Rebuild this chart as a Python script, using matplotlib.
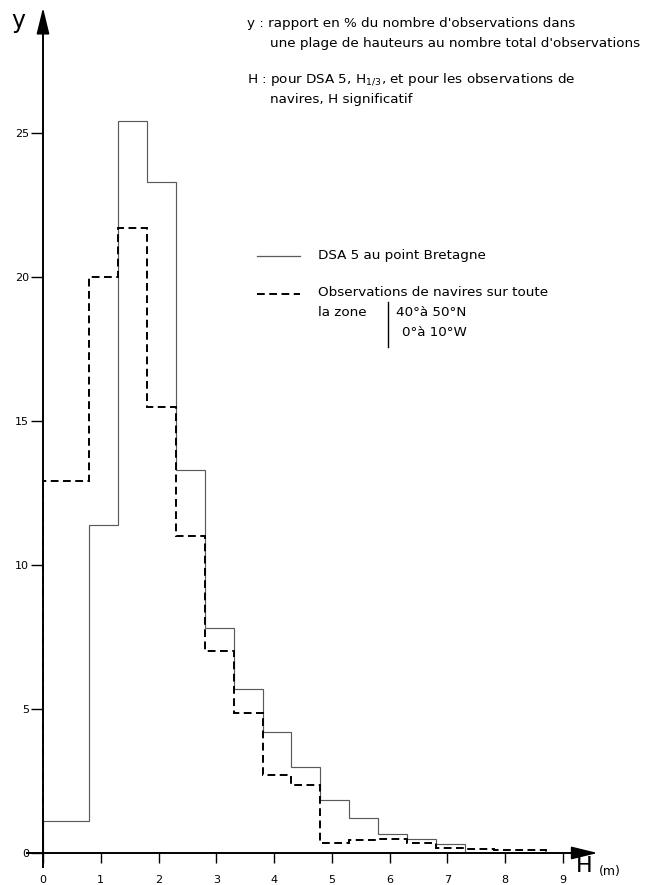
import matplotlib
matplotlib.use("Agg")
import matplotlib.pyplot as plt
from matplotlib.lines import Line2D
import numpy as np

plt.rcParams['font.family'] = ['DejaVu Sans']

# bin edges (m) and percentages
edges_dsa5 = [0, 0.8, 1.3, 1.8, 2.3, 2.8, 3.3, 3.8, 4.3, 4.8, 5.3, 5.8, 6.3, 6.8, 7.3]
dsa5 = [1.1, 11.4, 25.4, 23.3, 13.3, 7.8, 5.7, 4.2, 3.0, 1.85, 1.2, 0.65, 0.5, 0.3]

edges_ships = [0, 0.8, 1.3, 1.8, 2.3, 2.8, 3.3, 3.8, 4.3, 4.8, 5.3, 5.8, 6.3, 6.8, 7.3, 7.8, 8.3, 8.7]
ships = [12.9, 20.0, 21.7, 15.5, 11.0, 7.0, 4.85, 2.7, 2.35, 0.35, 0.45, 0.5, 0.35, 0.18, 0.15, 0.12, 0.1]

xticks = [0, 1, 2, 3, 4, 5, 6, 7, 8, 9]
yticks = [0, 5, 10, 15, 20, 25]

W, H = 649, 885
fig = plt.figure(figsize=(W / 100, H / 100), dpi=100)
ax = fig.add_axes([0, 0, 1, 1])
ax.patch.set_alpha(0)

# pixel mapping of the original plate
x0px, x9px = 43, 563
y0px, y25px = 853, 133
sx = (x9px - x0px) / 9.0
sy = (y0px - y25px) / 25.0
ax.set_xlim(-x0px / sx, (W - x0px) / sx)
ax.set_ylim(-(H - y0px) / sy, y0px / sy)

def fx(px):
    return px / W

def fy(py):
    return 1 - py / H

solid_col = '#5a5a5a'
dash_style = (0, (4, 2.3))

# histograms
ax.stairs(dsa5, edges_dsa5, baseline=0, color=solid_col, lw=0.85)
ax.stairs(ships, edges_ships, baseline=0, color='black', lw=1.4,
          linestyle=dash_style)

# axes as arrows
for s in ['top', 'right']:
    ax.spines[s].set_visible(False)
ax.spines['left'].set_position(('data', 0))
ax.spines['bottom'].set_position(('data', 0))
ax.spines['left'].set_bounds(-0.49, 28.6)
ax.spines['bottom'].set_bounds(-0.28, 9.25)
ax.spines['left'].set_linewidth(1.4)
ax.spines['bottom'].set_linewidth(1.4)

arrow = dict(arrowstyle='-|>,head_length=0.9,head_width=0.22',
             mutation_scale=18, color='black', lw=1.2, shrinkA=0, shrinkB=0)
ax.annotate('', xy=(0, 29.35), xytext=(0, 28.4), arrowprops=arrow)
ax.annotate('', xy=(9.6, 0), xytext=(9.2, 0), arrowprops=arrow)

ax.set_xticks(xticks)
ax.set_yticks(yticks)
ax.tick_params(axis='y', direction='out', length=8.5, width=1, pad=1.5, labelsize=8)
ax.tick_params(axis='x', direction='out', length=7, width=1, pad=9, labelsize=8)

# axis letters
fig.text(fx(11), fy(21), 'y', fontsize=17, ha='left', va='center')
fig.text(fx(576), fy(866), 'H', fontsize=16, ha='left', va='center')
fig.text(fx(599), fy(872), '(m)', fontsize=9, ha='left', va='center')

# explanatory notes
fs = 9.7
fig.text(fx(247), fy(24), "y : rapport en % du nombre d'observations dans",
         fontsize=fs, va='center')
fig.text(fx(270), fy(43), "une plage de hauteurs au nombre total d'observations",
         fontsize=fs, va='center')
fig.text(fx(247), fy(80), "H : pour DSA 5, H$_{1/3}$, et pour les observations de",
         fontsize=fs, va='center')
fig.text(fx(270), fy(100), "navires, H significatif",
         fontsize=fs, va='center')

# hand-drawn legend
fig.add_artist(Line2D([fx(257), fx(300)], [fy(256), fy(256)], color=solid_col, lw=0.9))
fig.add_artist(Line2D([fx(257), fx(300)], [fy(294), fy(294)], color='black', lw=1.4,
                      linestyle=dash_style))
fig.text(fx(318), fy(255), "DSA 5 au point Bretagne", fontsize=fs, va='center')
fig.text(fx(318), fy(292), "Observations de navires sur toute", fontsize=fs, va='center')
fig.text(fx(318), fy(313), "la zone", fontsize=fs, va='center')
fig.add_artist(Line2D([fx(388), fx(388)], [fy(302), fy(347)], color='black', lw=1.0))
fig.text(fx(396), fy(313), "40°à 50°N", fontsize=fs, va='center')
fig.text(fx(402), fy(332), "0°à 10°W", fontsize=fs, va='center')

fig.savefig('out.png', dpi=100)
